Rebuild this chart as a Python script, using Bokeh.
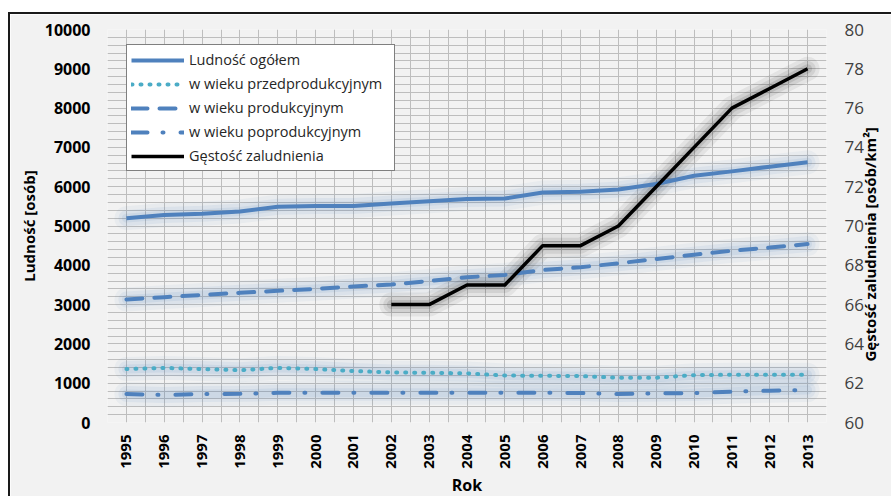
import math
from bokeh.plotting import figure
from bokeh.models import Range1d, LinearAxis, FixedTicker, Legend, LegendItem
from bokeh.embed import file_html
from bokeh.resources import INLINE

# ---- data -------------------------------------------------------------
years = list(range(1995, 2014))
ludnosc_ogolem = [5200, 5280, 5310, 5370, 5490, 5510, 5510, 5570, 5630, 5690,
                  5700, 5850, 5870, 5930, 6070, 6280, 6390, 6510, 6620]
przedprodukcyjny = [1360, 1390, 1360, 1330, 1390, 1360, 1310, 1275, 1265, 1250,
                    1195, 1190, 1180, 1140, 1140, 1205, 1215, 1215, 1215]
produkcyjny = [3130, 3190, 3245, 3300, 3350, 3400, 3460, 3510, 3600, 3695,
               3755, 3880, 3950, 4050, 4160, 4270, 4370, 4450, 4540]
poprodukcyjny = [725, 700, 725, 730, 755, 760, 760, 760, 760, 760,
                 760, 760, 750, 725, 740, 750, 785, 810, 825]
gestosc_lata = list(range(2002, 2014))
gestosc = [66, 66, 67, 67, 69, 69, 70, 72, 74, 76, 77, 78]

y_left_ticks = list(range(0, 10001, 1000))
y_right_ticks = list(range(60, 81, 2))

labels = ["Ludność ogółem", "w wieku przedprodukcyjnym", "w wieku produkcyjnym",
          "w wieku poprodukcyjnym", "Gęstość zaludnienia"]
right_title = "Gęstość zaludnienia [osób/km²]"

BLUE = "#4f81bd"
TEAL = "#4bacc6"
BG = "#f2f2f2"
FONT = "Open Sans"

p = figure(width=883, height=484,
           x_range=Range1d(1994.5, 2013.5), y_range=Range1d(0, 10000),
           output_backend="svg", toolbar_location=None,
           min_border_left=97, min_border_right=65,
           min_border_top=15, min_border_bottom=74)
p.styles = {"margin-left": "8px", "margin-top": "12px",
            "border-left": "2px solid #1a1a1a", "border-top": "2px solid #1a1a1a"}
p.extra_y_ranges = {"dens": Range1d(60, 80)}
p.background_fill_color = BG
p.border_fill_color = BG
p.outline_line_color = None

# grid
p.xgrid.ticker = FixedTicker(ticks=[1994.5 + 0.5 * i for i in range(39)])
p.ygrid.ticker = FixedTicker(ticks=list(range(0, 10001, 200)))
for g in (p.xgrid, p.ygrid):
    g.grid_line_color = "#bdbdbd"
    g.grid_line_width = 1

# axes
xa = p.xaxis[0]
xa.ticker = FixedTicker(ticks=years)
xa.major_label_orientation = math.pi / 2
xa.axis_label = "Rok"
ya = p.yaxis[0]
ya.ticker = FixedTicker(ticks=y_left_ticks)
ya.axis_label = "Ludność [osób]"
ra = LinearAxis(y_range_name="dens", ticker=FixedTicker(ticks=y_right_ticks))
p.add_layout(ra, "right")
# right-hand title, reading bottom-to-top, drawn as a single rotated tick label
# (the rotated label starts at its tick and runs upward)
rt = LinearAxis(y_range_name="dens", ticker=FixedTicker(ticks=[63.1]),
                major_label_overrides={63.1: right_title},
                major_label_orientation=math.pi / 2)
p.add_layout(rt, "right")

for ax in (xa, ya, ra, rt):
    ax.axis_line_color = None
    ax.major_tick_line_color = None
    ax.minor_tick_line_color = None
    ax.major_tick_out = 0
    ax.major_tick_in = 0
    ax.major_label_text_font = FONT
    ax.axis_label_text_font = FONT
    ax.axis_label_text_font_style = "bold"
    ax.axis_label_text_color = "#000000"
    ax.axis_label_text_font_size = "15px"

xa.major_label_text_font_style = "bold"
xa.major_label_text_font_size = "15px"
xa.major_label_text_color = "#000000"
xa.major_label_standoff = 12
xa.axis_label_text_font_size = "16px"
xa.axis_label_standoff = 2

ya.major_label_text_font_style = "bold"
ya.major_label_text_font_size = "16px"
ya.major_label_text_color = "#000000"
ya.major_label_standoff = 17
ya.axis_label_standoff = 3

ra.major_label_text_font_style = "normal"
ra.major_label_text_font_size = "17px"
ra.major_label_text_color = "#404040"
ra.major_label_standoff = 18

rt.major_label_text_font_style = "bold"
rt.major_label_text_font_size = "15px"
rt.major_label_text_color = "#000000"
rt.major_label_standoff = 4

# glow (soft halo under lines)
def halo(xs, ys, color, y_range_name="default"):
    for w, a in ((24, 0.06), (16, 0.08), (9, 0.1)):
        p.line(xs, ys, line_width=w, line_color=color, line_alpha=a,
               line_join="round", line_cap="round", y_range_name=y_range_name)

halo(years, ludnosc_ogolem, BLUE)
halo(years, przedprodukcyjny, BLUE)
halo(years, produkcyjny, BLUE)
halo(years, poprodukcyjny, BLUE)
halo(gestosc_lata, gestosc, "#000000", "dens")

r1 = p.line(years, ludnosc_ogolem, line_width=4, line_color=BLUE, line_join="round")
r2 = p.line(years, przedprodukcyjny, line_width=4, line_color=TEAL,
            line_dash="1 8", line_cap="round")
r3 = p.line(years, produkcyjny, line_width=4, line_color=BLUE,
            line_dash="16 12", line_cap="round")
r4 = p.line(years, poprodukcyjny, line_width=4, line_color=BLUE,
            line_dash="16 15 1 17", line_cap="round")
r5 = p.line(gestosc_lata, gestosc, line_width=3.5, line_color="#000000",
            line_join="round", y_range_name="dens")

legend = Legend(items=[LegendItem(label=l, renderers=[r])
                       for l, r in zip(labels, [r1, r2, r3, r4, r5])],
                location=(19, 251))
legend.label_text_font = FONT
legend.label_text_font_size = "14.5px"
legend.label_text_color = "#262626"
legend.glyph_width = 53
legend.label_standoff = 5
legend.label_height = 21
legend.label_width = 201
legend.spacing = 3
legend.padding = 4
legend.margin = 0
legend.border_line_color = "#000000"
legend.border_line_width = 1
legend.background_fill_color = "#ffffff"
legend.background_fill_alpha = 1
p.add_layout(legend)

open("out.html", "w").write(file_html(p, INLINE))
